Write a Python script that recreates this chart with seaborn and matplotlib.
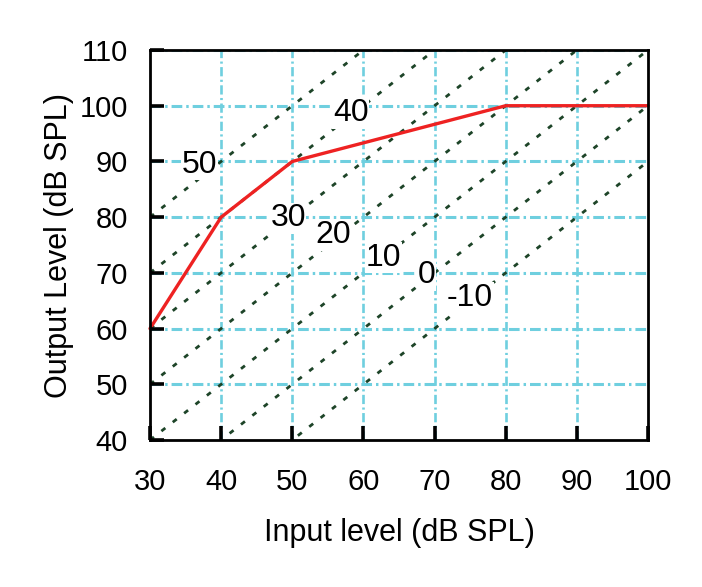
import numpy as np
import pandas as pd
import matplotlib
matplotlib.use("Agg")
import matplotlib.pyplot as plt
import seaborn as sns

# compression curve (input -> output, dB SPL)
input_level = [30, 40, 50, 80, 100]
output_level = [60, 80, 90, 100, 100]

# constant-gain reference lines (output = input + gain)
gains = [-10, 0, 10, 20, 30, 40, 50]
gain_x = [30, 100]

# gain labels placed on the chart
gain_labels = ["50", "40", "30", "20", "10", "0", "-10"]
label_x = [37.0, 58.2, 49.4, 55.8, 62.8, 68.9, 75.0]
label_y = [89.4, 98.7, 79.8, 76.8, 72.7, 69.6, 65.5]

x_ticks = [30, 40, 50, 60, 70, 80, 90, 100]
y_ticks = [40, 50, 60, 70, 80, 90, 100, 110]

sns.set_theme(style="white")
plt.rcParams["font.family"] = ["Liberation Sans", "DejaVu Sans"]
plt.rcParams["text.color"] = "black"
plt.rcParams["axes.labelcolor"] = "black"

fig = plt.figure(figsize=(7.02, 5.87), dpi=100)
ax = fig.add_axes([0.2137, 0.2504, 0.7094, 0.6644])

# grid
grid_color = "#6fcfdf"
for xv in x_ticks[1:-1]:
    ax.axvline(xv, color=grid_color, lw=1.9, ls=(0, (3.5, 1.3, 0.8, 1.3)), zorder=1)
for yv in y_ticks[1:]:
    ax.axhline(yv, color=grid_color, lw=2.2, ls=(0, (3.5, 1.3, 0.8, 1.3)), zorder=1)

df_gain = pd.DataFrame(
    [(g, x, x + g) for g in gains for x in gain_x], columns=["gain", "x", "y"]
)
sns.lineplot(
    data=df_gain, x="x", y="y", hue="gain", units="gain", estimator=None,
    palette=["#1d4428"] * len(gains), lw=2.0, ls=(0, (1.8, 3.4)),
    legend=False, ax=ax, zorder=2,
)

df_curve = pd.DataFrame({"input": input_level, "output": output_level})
sns.lineplot(data=df_curve, x="input", y="output", color="#ee2222", lw=2.4,
             ax=ax, zorder=3, clip_on=False)

for t, lx, ly in zip(gain_labels, label_x, label_y):
    ax.text(lx, ly, t, fontsize=23, ha="center", va="center", color="black",
            zorder=4, bbox=dict(facecolor="white", edgecolor="none", pad=0.5))

ax.set_xlim(30, 100)
ax.set_ylim(40, 110)
ax.set_xticks(x_ticks)
ax.set_yticks(y_ticks)
ax.tick_params(direction="in", length=10, width=2.6, labelsize=21,
               colors="black", bottom=True, left=True, top=False, right=False)
ax.tick_params(axis="x", pad=20)
ax.tick_params(axis="y", pad=16)
ax.set_axisbelow(False)
ax.xaxis.set_zorder(6)
ax.yaxis.set_zorder(6)
for s in ax.spines.values():
    s.set_color("black")
    s.set_linewidth(2)
    s.set_zorder(5)

ax.set_xlabel("Input level (dB SPL)", fontsize=22, labelpad=16)
ax.set_ylabel("Output Level (dB SPL)", fontsize=22, labelpad=4)

fig.savefig("out.png", dpi=100, facecolor="white")
